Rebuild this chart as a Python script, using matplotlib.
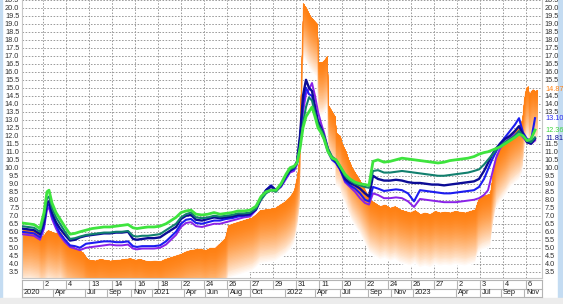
import numpy as np
import matplotlib
matplotlib.use('Agg')
import matplotlib.pyplot as plt
from matplotlib.colors import to_rgb
from matplotlib.patches import Rectangle

# ---------------- data (time axis: period number, 1 period ~ 2 trading days) -------------
t_lines = [0, 6, 12, 18, 22, 25, 27, 30, 34, 38,
           43, 48, 53, 58, 64, 70, 76, 82, 88, 94,
           100, 106, 111, 115, 120, 126, 132, 138, 144, 149,
           154, 159, 164, 169, 174, 180, 186, 192, 198, 204,
           210, 216, 222, 228, 234, 239, 244, 249, 254, 259,
           264, 268, 272, 275, 278, 281, 284, 287, 290, 293,
           296, 299, 302, 306, 310, 314, 318, 323, 328, 333,
           338, 343, 347, 351, 356, 362, 368, 374, 380, 386,
           392, 398, 404, 410, 416, 422, 428, 434, 440, 446,
           452, 457, 462, 466, 470, 474, 478, 483, 488, 493,
           497, 501, 505, 509, 513]

green = [6.55, 6.5, 6.45, 6.2, 7.2, 8.5, 8.6, 7.8, 7.2, 6.8,
         6.3, 5.85, 5.9, 6.0, 6.1, 6.2, 6.25, 6.3, 6.3, 6.35,
         6.4, 6.45, 6.25, 6.2, 6.25, 6.3, 6.3, 6.35, 6.5, 6.7,
         6.9, 7.2, 7.3, 7.35, 7.1, 7.05, 7.1, 7.2, 7.1, 7.15,
         7.2, 7.3, 7.3, 7.35, 7.6, 8.2, 8.5, 8.6, 8.6, 9.0,
         9.6, 10.0, 10.1, 10.3, 11.2, 12.5, 13.2, 13.5, 13.8, 13.2,
         12.5, 12.2, 11.8, 11.0, 10.6, 10.5, 10.1, 9.6, 9.3, 9.1,
         9.0, 8.95, 8.9, 10.4, 10.5, 10.35, 10.4, 10.5, 10.6, 10.55,
         10.5, 10.45, 10.4, 10.35, 10.3, 10.35, 10.45, 10.5, 10.55, 10.6,
         10.7, 10.85, 10.95, 11.0, 11.1, 11.2, 11.3, 11.5, 11.7, 11.9,
         12.1, 12.0, 11.7, 11.8, 12.36]

teal = [6.35, 6.3, 6.25, 6.0, 6.9, 8.1, 8.2, 7.5, 6.9, 6.5,
        6.0, 5.55, 5.6, 5.7, 5.8, 5.85, 5.9, 5.95, 5.95, 6.0,
        6.0, 6.05, 5.75, 5.7, 5.75, 5.75, 5.8, 5.85, 6.1, 6.3,
        6.5, 6.9, 7.1, 7.2, 6.9, 6.85, 6.9, 7.0, 6.95, 7.0,
        7.05, 7.15, 7.15, 7.2, 7.45, 8.0, 8.4, 8.6, 8.5, 8.9,
        9.5, 9.9, 10.0, 10.3, 11.3, 12.8, 13.8, 14.4, 14.2, 13.4,
        12.7, 12.4, 12.0, 11.2, 10.7, 10.5, 10.1, 9.5, 9.2, 9.0,
        8.9, 8.8, 8.75, 9.8, 9.85, 9.7, 9.7, 9.75, 9.8, 9.75,
        9.7, 9.65, 9.6, 9.55, 9.5, 9.5, 9.55, 9.6, 9.65, 9.7,
        9.8, 9.9, 10.2, 10.5, 10.8, 11.1, 11.35, 11.6, 11.8, 12.0,
        12.3, 12.0, 11.7, 11.6, 11.9]

navy = [6.2, 6.15, 6.1, 5.85, 6.6, 7.8, 7.9, 7.2, 6.6, 6.2,
        5.8, 5.45, 5.5, 5.65, 5.75, 5.8, 5.85, 5.9, 5.9, 5.95,
        5.95, 6.0, 5.55, 5.5, 5.55, 5.6, 5.6, 5.65, 5.9, 6.1,
        6.3, 6.8, 7.0, 7.05, 6.75, 6.7, 6.8, 6.9, 6.85, 6.9,
        6.95, 7.05, 7.05, 7.1, 7.4, 8.1, 8.6, 8.85, 8.6, 8.9,
        9.5, 9.8, 10.0, 10.4, 12.0, 14.5, 15.5, 15.0, 14.8, 13.8,
        12.9, 12.5, 12.0, 11.1, 10.6, 10.4, 10.0, 9.3, 9.05, 8.9,
        8.7, 8.4, 8.2, 9.5, 9.3, 9.2, 9.2, 9.25, 9.2, 9.1,
        9.05, 9.05, 9.0, 8.95, 8.95, 8.9, 8.95, 9.0, 9.05, 9.1,
        9.15, 9.3, 9.8, 10.3, 10.8, 11.2, 11.5, 11.8, 12.0, 12.3,
        12.6, 12.1, 11.6, 11.5, 11.81]

blue = [6.0, 5.95, 5.9, 5.65, 6.4, 7.6, 7.7, 7.0, 6.4, 5.9,
        5.5, 5.15, 5.1, 5.0, 5.25, 5.3, 5.35, 5.4, 5.4, 5.35,
        5.35, 5.4, 5.1, 5.05, 5.1, 5.1, 5.1, 5.15, 5.4, 5.7,
        6.0, 6.5, 6.75, 6.8, 6.55, 6.5, 6.6, 6.7, 6.7, 6.8,
        6.85, 6.95, 7.0, 7.05, 7.4, 8.1, 8.6, 8.9, 8.6, 8.85,
        9.4, 9.8, 9.9, 10.3, 11.8, 14.0, 15.0, 14.6, 14.5, 13.6,
        12.8, 12.3, 11.8, 11.0, 10.5, 10.3, 9.9, 9.2, 8.9, 8.7,
        8.4, 8.0, 7.9, 8.8, 8.7, 8.55, 8.6, 8.65, 8.6, 8.4,
        7.9, 8.6, 8.55, 8.5, 8.45, 8.4, 8.4, 8.45, 8.5, 8.55,
        8.6, 8.8, 9.3, 9.9, 10.5, 11.0, 11.5, 11.9, 12.3, 12.7,
        13.1, 12.2, 11.8, 11.7, 13.1]

purple = [5.85, 5.8, 5.75, 5.5, 6.2, 7.4, 7.5, 6.8, 6.2, 5.75,
          5.35, 5.05, 4.95, 4.85, 5.0, 5.05, 5.1, 5.15, 5.2, 5.15,
          5.15, 5.2, 4.95, 4.9, 4.95, 4.95, 4.95, 5.0, 5.2, 5.5,
          5.8, 6.3, 6.55, 6.6, 6.35, 6.3, 6.4, 6.5, 6.5, 6.6,
          6.7, 6.8, 6.9, 6.95, 7.35, 8.0, 8.5, 8.8, 8.55, 8.8,
          9.3, 9.7, 9.8, 10.2, 11.5, 13.5, 14.6, 14.9, 15.3, 14.5,
          13.5, 12.8, 12.2, 11.2, 10.6, 10.3, 9.9, 9.1, 8.8, 8.5,
          8.1, 7.8, 7.7, 8.4, 8.3, 8.1, 8.1, 8.15, 8.1, 7.9,
          7.55, 8.05, 8.0, 7.95, 7.9, 7.85, 7.85, 7.85, 7.9, 7.95,
          8.0, 8.1, 8.3, 8.6, 9.6, 10.6, 11.2, 11.6, 11.9, 12.1,
          12.2, 11.9, 11.6, 11.5, 11.7]

t_orange = [0, 8, 16, 19, 22, 24, 26, 30, 34, 38,
            42, 45, 50, 56, 61, 64, 67, 73, 78, 83,
            88, 96, 103, 108, 113, 118, 123, 128, 133, 138,
            143, 148, 153, 158, 163, 168, 173, 178, 183, 188,
            193, 198, 203, 206, 210, 215, 220, 225, 230, 234,
            238, 243, 248, 253, 258, 263, 268, 272, 275, 277,
            279, 281, 284, 288, 292, 295, 296.5, 300, 303, 305,
            306.5, 310, 313, 314, 318, 320, 324, 326, 330, 334,
            338, 343, 348, 353, 358, 363, 368, 373, 378, 383,
            388, 393, 398, 403, 408, 413, 418, 423, 428, 433,
            438, 443, 448, 453, 456, 460, 464, 468, 471, 474,
            478, 483, 488, 493, 497, 500, 502, 504, 506, 507,
            509, 511, 513, 515]

orange = [6.1, 6.15, 6.0, 5.7, 5.8, 6.0, 6.1, 6.0, 5.9, 6.0,
          5.6, 5.3, 5.1, 4.9, 4.7, 4.4, 4.25, 4.2, 4.3, 4.25,
          4.2, 4.25, 4.3, 4.35, 4.25, 4.3, 4.2, 4.15, 4.2, 4.15,
          4.3, 4.4, 4.5, 4.6, 4.75, 4.85, 4.9, 4.95, 4.85, 5.0,
          5.0, 5.3, 5.6, 6.4, 6.5, 6.6, 6.7, 6.8, 6.9, 7.1,
          7.35, 7.4, 7.45, 7.5, 7.7, 7.9, 8.2, 8.6, 9.5, 10.5,
          16.0, 20.3, 20.0, 19.5, 19.2, 19.0, 16.6, 16.6, 16.8, 17.0,
          13.9, 13.5, 13.2, 12.2, 12.0, 11.5, 11.0, 10.6, 10.0, 9.6,
          9.2, 8.6, 8.0, 7.8, 7.6, 7.7, 7.5, 7.6, 7.4, 7.3,
          7.2, 7.35, 7.1, 7.2, 7.1, 7.3, 7.2, 7.25, 7.2, 7.3,
          7.25, 7.2, 7.3, 7.4, 8.0, 8.2, 8.3, 8.4, 9.8, 10.8,
          11.2, 11.6, 12.1, 12.4, 12.6, 13.0, 14.3, 15.0, 15.1, 14.5,
          14.8, 14.9, 14.8, 14.87]

day_tick_t = [21 + 23 * k for k in range(22)]
day_tick_labels = ['2', '4', '13', '14', '16', '18', '22', '24', '26', '27', '29',
                   '31', '11', '20', '22', '24', '26', '27', '2', '3', '4', '6']
month_t = [0, 31, 63, 85, 109, 130, 162, 183, 206, 228, 263,
           293, 318, 346, 369, 391, 434, 458, 479, 502]
month_labels = ['2020', 'Apr', 'Jul', 'Sep', 'Nov', '2021', 'Apr', 'Jun', 'Aug', 'Oct',
                '2022', 'Apr', 'Jul', 'Sep', 'Nov', '2023', 'Apr', 'Jul', 'Sep', 'Nov']

# ---------------- figure ----------------
W, H = 563, 304
fig = plt.figure(figsize=(W / 100, H / 100), dpi=100)
fig.patch.set_facecolor('white')
plt.rcParams['font.family'] = ['Liberation Sans', 'DejaVu Sans']


def fx(px):
    return px / W


def fy(py):
    return 1 - py / H


ax = fig.add_axes([fx(22), fy(278), fx(542) - fx(22), fy(-0.2) - fy(278)])
ax.set_xlim(0, 520)
ax.set_ylim(3.11, 20.5)

# orange gradient area
c_or = np.array(to_rgb('#ff8012'))
c_wh = np.ones(3)
top = np.array(orange)
N = 36
depth = 3.4
for k in range(N, 0, -1):
    frac = k / N
    a = frac ** 1.6
    col = c_or * (1 - a) + c_wh * a
    ax.fill_between(t_orange, top - depth * frac, top, color=col, lw=0, zorder=1)

# lines
ax.plot(t_lines, purple, color='#8a22e8', lw=1.4, zorder=3)
ax.plot(t_lines, blue, color='#1c1cf0', lw=1.5, zorder=4)
ax.plot(t_lines, navy, color='#0c0c96', lw=1.7, zorder=5)
ax.plot(t_lines, teal, color='#12806e', lw=1.5, zorder=6)
ax.plot(t_lines, green, color='#3ee43e', lw=2.0, zorder=7)

# grid
yt = np.arange(3.5, 20.51, 0.5)
ax.set_yticks(yt)
ax.set_yticklabels([f'{v:.1f}' for v in yt])
ax.set_xticks(day_tick_t)
ax.set_xticklabels([])
ax.grid(True, color='#9a9a9a', linestyle=(0, (1.6, 1.6)), lw=0.7, zorder=0)
ax.set_axisbelow(True)
ax.tick_params(axis='y', length=0, labelsize=5.3, labelcolor='#303030',
               left=True, right=False, labelleft=True, labelright=False, pad=2)
ax.tick_params(axis='x', length=0, labelbottom=False)
for s in ax.spines.values():
    s.set_color('#c8c8c8')
    s.set_linewidth(0.8)
ax.spines['top'].set_visible(False)

# right axis labels (those hidden by last-value labels are left blank)
value_labels = [(orange[-1], '#ff8012'), (blue[-1], '#2a2af0'),
                (green[-1], '#3ed43e'), (navy[-1], '#0c0c96')]
ax2 = ax.twinx()
ax2.set_ylim(ax.get_ylim())
ax2.set_yticks(yt)
right_labels = []
for v in yt:
    hidden = any(abs(v - lv) < 0.3 for lv, _ in value_labels)
    right_labels.append('' if hidden else f'{v:.1f}')
ax2.set_yticklabels(right_labels)
ax2.tick_params(axis='y', length=0, labelsize=5.3, labelcolor='#303030', pad=2)
for s in ax2.spines.values():
    s.set_visible(False)

lab_style = dict(transform=ax.get_yaxis_transform(), ha='left', va='center', fontsize=5.3,
                 clip_on=False)
for lv, lc in value_labels:
    ax2.text(1.006, lv, f'{lv:.2f}', color=lc, **lab_style)

# ---------------- bottom date rows ----------------
axb = fig.add_axes([fx(22), fy(297), fx(542) - fx(22), fy(280) - fy(297)])
axb.set_xlim(0, 520)
axb.set_ylim(0, 2)
axb.axis('off')
gcol = '#b4b4b4'
axb.plot([0, 520], [2, 2], color=gcol, lw=0.8, clip_on=False)
axb.plot([0, 520], [1, 1], color=gcol, lw=0.8, clip_on=False)
axb.plot([0, 520], [0, 0], color=gcol, lw=0.8, clip_on=False)
axb.plot([0, 0], [0, 2], color=gcol, lw=0.8, clip_on=False)
axb.plot([520, 520], [0, 2], color=gcol, lw=0.8, clip_on=False)
for t, lab in zip(day_tick_t, day_tick_labels):
    axb.plot([t, t], [1, 2], color=gcol, lw=0.8)
    axb.text(t + 2, 1.5, lab, fontsize=5.3, color='#202020', ha='left', va='center')
for t, lab in zip(month_t, month_labels):
    axb.plot([t, t], [0, 1], color=gcol, lw=0.8)
    axb.text(t + 2, 0.5, lab, fontsize=5.3, color='#202020', ha='left', va='center')

# frame strips
fig.patches.append(Rectangle((0, 0), fx(2), 1, transform=fig.transFigure,
                             color='#c4dcf2', zorder=-1))
fig.patches.append(Rectangle((fx(558), 0), fx(5), 1, transform=fig.transFigure,
                             color='#c4dcf2', zorder=-1))
fig.patches.append(Rectangle((0, 0), 1, fy(298), transform=fig.transFigure,
                             color='#ececec', zorder=-1))

fig.savefig('out.png', dpi=100, facecolor=fig.get_facecolor())
